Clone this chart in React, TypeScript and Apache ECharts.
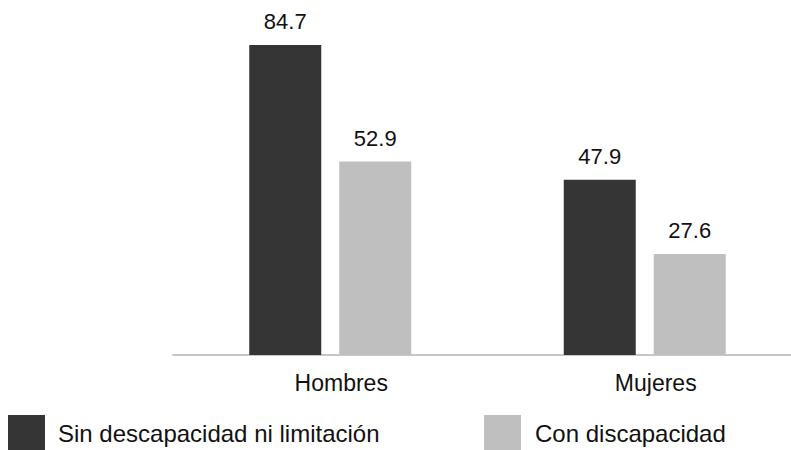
import React, { useEffect, useRef } from "react";
import * as echarts from "echarts";

const categories = ["Hombres", "Mujeres"];
const seriesNames = ["Sin descapacidad ni limitación", "Con discapacidad"];
const sinDiscapacidad = [84.7, 47.9];
const conDiscapacidad = [52.9, 27.6];

const FONT = "'Liberation Sans', Arial, Helvetica, sans-serif";

export default function App() {
  const ref = useRef<HTMLDivElement>(null);
  useEffect(() => {
    if (!ref.current) return;
    const chart = echarts.init(ref.current, null, { renderer: "svg" });
    const label = {
      show: true,
      position: "top",
      distance: 12,
      color: "#111",
      fontSize: 22,
      fontFamily: FONT,
      formatter: (p: any) => p.value.toFixed(1),
    };
    chart.setOption({
      animation: false,
      backgroundColor: "#ffffff",
      grid: { left: 173, right: 0, top: 25.6, bottom: 95 },
      xAxis: {
        type: "category",
        data: categories,
        axisLine: { show: true, lineStyle: { color: "#c8c8c8", width: 2 } },
        axisTick: { show: false },
        axisLabel: {
          color: "#111",
          fontSize: 23,
          fontFamily: FONT,
          margin: 16,
          padding: [0, 0, 0, 22],
        },
      },
      yAxis: { type: "value", min: 0, max: 90, show: false, splitLine: { show: false } },
      legend: [
        {
          data: [seriesNames[0]],
          left: 8,
          top: 415,
          padding: 0,
          itemWidth: 37,
          itemHeight: 37,
          icon: "rect",
          textStyle: { color: "#111", fontSize: 24, fontFamily: FONT, padding: [8, 0, 0, 8] },
        },
        {
          data: [seriesNames[1]],
          left: 484,
          top: 415,
          padding: 0,
          itemWidth: 37,
          itemHeight: 37,
          icon: "rect",
          textStyle: { color: "#111", fontSize: 24, fontFamily: FONT, padding: [8, 0, 0, 9] },
        },
      ],
      series: [
        {
          name: seriesNames[0],
          type: "bar",
          data: sinDiscapacidad,
          barWidth: 72,
          barGap: "25%",
          itemStyle: { color: "#353535" },
          label,
        },
        {
          name: seriesNames[1],
          type: "bar",
          data: conDiscapacidad,
          barWidth: 72,
          barGap: "25%",
          itemStyle: { color: "#bfbfbf" },
          label,
        },
      ],
    });
    return () => chart.dispose();
  }, []);
  return (
    <div
      ref={ref}
      style={{ position: "fixed", left: 0, top: 0, width: 802, height: 450 }}
    />
  );
}
